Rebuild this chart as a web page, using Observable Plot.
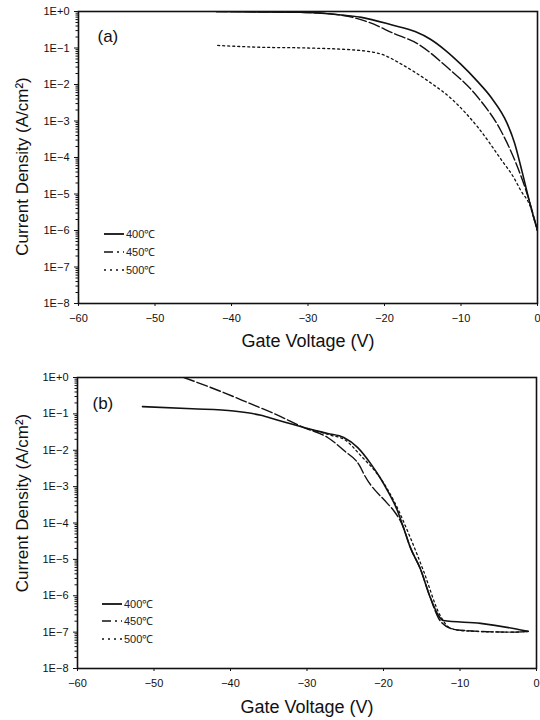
<!DOCTYPE html>
<html><head><meta charset="utf-8">
<script src="https://cdn.jsdelivr.net/npm/d3@7"></script>
<script src="https://cdn.jsdelivr.net/npm/@observablehq/plot@0.6"></script>
<style>
body{margin:0;background:#fff;width:540px;height:720px;overflow:hidden}
#chart svg{display:block}
</style></head><body><div id="chart"></div>
<script>
// ---- axis ticks ----
const xTicks = [-60, -50, -40, -30, -20, -10, 0];
const xTickLabels = ["\u221260", "\u221250", "\u221240", "\u221230", "\u221220", "\u221210", "0"];
const yTicks = [1, 1e-1, 1e-2, 1e-3, 1e-4, 1e-5, 1e-6, 1e-7, 1e-8];
const yTickLabels = ["1E+0", "1E\u22121", "1E\u22122", "1E\u22123", "1E\u22124", "1E\u22125", "1E\u22126", "1E\u22127", "1E\u22128"];
const series = ["400\u2103", "450\u2103", "500\u2103"];
const panelLabels = ["(a)", "(b)"];
const xTitle = "Gate Voltage (V)";
const yTitle = "Current Density (A/cm\u00B2)";

// ---- panel (a): gate voltage (V) and log10 current density ----
const a400V = [-42, -31, -27, -23, -19, -16, -14, -12, -10, -8, -6, -4, -3, -2, -1, -0.5, 0];
const a400E = [0, -0.02, -0.07, -0.16, -0.37, -0.55, -0.76, -1.07, -1.45, -1.88, -2.37, -3.05, -3.6, -4.4, -5.25, -5.64, -6.0];
const a450V = [-42, -31, -25.4, -22, -18.8, -15.7, -11.8, -7.8, -4.8, -2.6, -1.2, 0];
const a450E = [0, -0.02, -0.11, -0.3, -0.6, -0.88, -1.53, -2.35, -3.26, -4.27, -5.1, -6.0];
const a500V = [-41.8, -36.2, -30, -23.1, -20, -17.9, -14.4, -11, -7.8, -4.6, -3.1, -2.2, -0.9, -0.3, 0];
const a500E = [-0.93, -0.98, -1.0, -1.07, -1.2, -1.43, -1.89, -2.44, -3.17, -4.1, -4.55, -4.9, -5.37, -5.8, -6.0];

// ---- panel (b) ----
const b400V = [-51.5, -45, -39.6, -36, -33.9, -30.5, -27.3, -25.2, -23.4, -21.7, -20.4, -19.5, -18.2, -17.4, -16.5, -15.2, -13.9, -12.8, -12.2, -7.3, -3, -1.1];
const b400E = [-0.8, -0.86, -0.92, -1.04, -1.17, -1.37, -1.54, -1.65, -1.92, -2.36, -2.77, -3.1, -3.65, -4.12, -4.67, -5.25, -6.04, -6.55, -6.68, -6.76, -6.9, -6.98];
const b450V = [-46.1, -41.3, -37.4, -34, -30.5, -27.3, -25.2, -23, -22.6, -19.5, -18.7, -17.4, -16.5, -15.2, -13.9, -12.8, -11.2, -9.9, -3, -1.1];
const b450E = [0, -0.38, -0.72, -1.02, -1.37, -1.65, -2.0, -2.47, -2.64, -3.46, -3.65, -4.12, -4.67, -5.25, -6.04, -6.62, -6.9, -6.95, -7.0, -6.98];
const b500V = [-30, -27, -25, -23, -20.4, -18.5, -16.5, -14.8, -12.6, -11.2, -9, -3, -1.1];
const b500E = [-1.4, -1.58, -1.72, -2.14, -2.77, -3.45, -4.4, -5.3, -6.54, -6.9, -6.97, -7.0, -6.98];

const styles = [
  {strokeWidth: 1.6, strokeDasharray: null},
  {strokeWidth: 1.4, strokeDasharray: "11,3"},
  {strokeWidth: 1.3, strokeDasharray: "2,3"}
];

function rows(V, E) { return V.map((v, i) => ({v, j: Math.pow(10, E[i])})); }

const minorTicks = [];
for (let k = -8; k < 0; k++) for (let m = 2; m <= 9; m++) minorTicks.push(m * Math.pow(10, k));

function yFmt(d) {
  const i = yTicks.findIndex(t => Math.abs(Math.log10(t) - Math.log10(d)) < 1e-6);
  return i >= 0 ? yTickLabels[i] : "";
}
function xFmt(d) { const i = xTicks.indexOf(d); return i >= 0 ? xTickLabels[i] : ""; }

const FONT = "'Liberation Sans', Arial, Helvetica, sans-serif";

function panel(cfg) {
  const chart = Plot.plot({
    width: 540, height: 360,
    marginLeft: cfg.ml, marginRight: cfg.mr, marginTop: cfg.mt, marginBottom: cfg.mb,
    x: {domain: [-60, 0]},
    y: {type: "log", domain: [1e-8, 1]},
    style: {fontFamily: FONT, fontSize: "11px", color: "#111", background: "#fff", overflow: "visible"},
    marks: [
      Plot.axisY(minorTicks, {tickSize: 2.5, tickFormat: () => "", label: null}),
      Plot.axisY(yTicks, {tickSize: 4, tickPadding: 5, tickFormat: yFmt, label: null, fontSize: 11}),
      Plot.axisX(xTicks, {tickSize: 3, tickPadding: 8, tickFormat: xFmt, label: null, fontSize: 11}),
      ...cfg.data.map((d, i) => Plot.line(d, {x: "v", y: "j", stroke: "#111", clip: true, curve: "monotone-x", ...styles[i]})),
      Plot.frame({stroke: "#111", strokeWidth: 1.6}),
      Plot.text([cfg.label], {frameAnchor: "top-left", dx: cfg.labelDx, dy: cfg.labelDy, fontSize: 17, lineAnchor: "top", fill: "#111"}),
      Plot.text([xTitle], {frameAnchor: "bottom", dy: cfg.xtDy, lineAnchor: "middle", fontSize: 18, fill: "#111"}),
      Plot.text([yTitle], {frameAnchor: "left", rotate: -90, textAnchor: "middle", lineAnchor: "middle", dx: cfg.ytDx, dy: cfg.ytDy, fontSize: 17, fill: "#111"})
    ]
  });
  // legend
  const svg = d3.select(chart);
  const g = svg.append("g").attr("font-family", FONT).attr("font-size", 11).attr("fill", "#222").attr("text-anchor", "start");
  const legendDash = [null, "9,4,2,4", "2,4"];
  series.forEach((s, i) => {
    const y = cfg.legY[i];
    g.append("line").attr("x1", cfg.legX).attr("x2", cfg.legX + 20).attr("y1", y).attr("y2", y)
      .attr("stroke", "#111").attr("stroke-width", i === 0 ? 1.8 : 1.6)
      .attr("stroke-dasharray", legendDash[i]);
    g.append("text").attr("x", cfg.legX + 22).attr("y", y).attr("dy", "0.35em").attr("text-anchor", "start").text(s);
  });
  return chart;
}

const root = document.getElementById("chart");
root.appendChild(panel({
  ml: 78, mr: 3, mt: 11, mb: 57,
  data: [rows(a400V, a400E), rows(a450V, a450E), rows(a500V, a500E)],
  label: panelLabels[0], labelDx: 19, labelDy: 18,
  xtDy: 38, ytDx: -56, ytDy: 9,
  legX: 104, legY: [234, 252, 270]
}));
root.appendChild(panel({
  ml: 77, mr: 4, mt: 17, mb: 52,
  data: [rows(b400V, b400E), rows(b450V, b450E), rows(b500V, b500E)],
  label: panelLabels[1], labelDx: 15, labelDy: 19,
  xtDy: 39, ytDx: -55, ytDy: -20,
  legX: 102, legY: [244, 261, 279]
}));
</script></body></html>
